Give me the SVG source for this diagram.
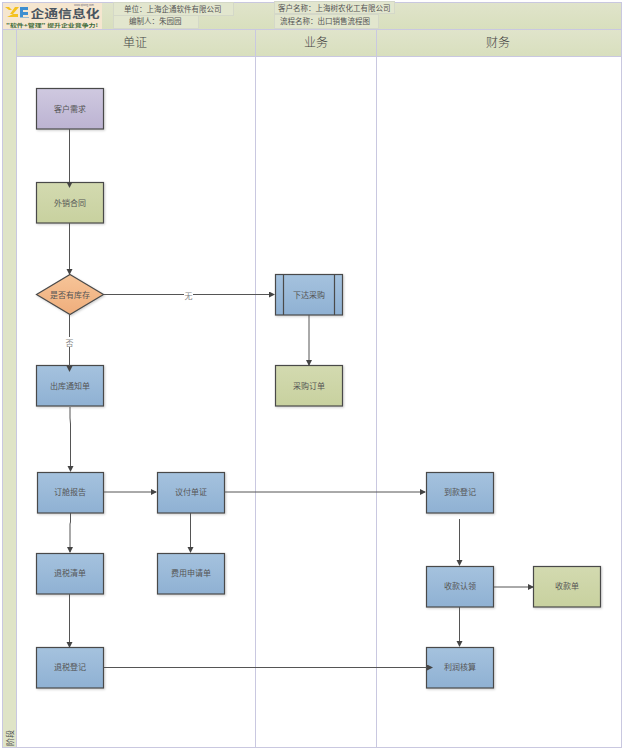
<svg xmlns="http://www.w3.org/2000/svg" width="627" height="753" viewBox="0 0 627 753">
<style>
text{font-family:"Noto Sans CJK SC","Liberation Sans",sans-serif;fill:#333;text-anchor:middle;dominant-baseline:central}
.n{font-size:8px;fill:#555}
.l{font-size:8px;fill:#888}
.h{font-size:12px;fill:#444;font-weight:300}
.m{font-size:7.500px;text-anchor:start;fill:#555}
.tag{fill:#e2e6ce;stroke:#d4d8c8;stroke-width:1}
.lane{fill:#fff;stroke:#c9c8e0;stroke-width:1}
.s{stroke:#4a4a4a;stroke-width:1.2;filter:url(#sh)}
.b{fill:url(#gb)}.g{fill:url(#gg)}.p{fill:url(#gp)}.o{fill:url(#go)}
.c{fill:none;stroke:#555;stroke-width:1;marker-end:url(#a)}
.lb{fill:#fff;stroke:none}
</style>
<defs>
<linearGradient id="gb" x1="0" y1="0" x2="0" y2="1"><stop offset="0" stop-color="#a5c2de"/><stop offset="1" stop-color="#8fb1d3"/></linearGradient>
<linearGradient id="gg" x1="0" y1="0" x2="0" y2="1"><stop offset="0" stop-color="#d3dab0"/><stop offset="1" stop-color="#c8d19f"/></linearGradient>
<linearGradient id="gp" x1="0" y1="0" x2="0" y2="1"><stop offset="0" stop-color="#cfc9e0"/><stop offset="1" stop-color="#bcb3d2"/></linearGradient>
<linearGradient id="go" x1="0" y1="0" x2="0" y2="1"><stop offset="0" stop-color="#f6c498"/><stop offset="1" stop-color="#efae7c"/></linearGradient>
<linearGradient id="gh" x1="0" y1="0" x2="0" y2="1"><stop offset="0" stop-color="#e0e4cb"/><stop offset="1" stop-color="#d8dfbd"/></linearGradient>
<filter id="sh" x="-10%" y="-10%" width="125%" height="125%"><feDropShadow dx="1" dy="1" stdDeviation="0.8" flood-color="#000" flood-opacity="0.2"/></filter>
<marker id="a" markerWidth="7" markerHeight="7" refX="5" refY="3" orient="auto" markerUnits="userSpaceOnUse"><path d="M0,0L6,3L0,6z" fill="#444"/></marker>
</defs>
<rect width="627" height="753" fill="#fff"/>
<g id="frame">
<rect x="2.500" y="2.500" width="619" height="745" fill="#fff" stroke="#c9c8e0"/>
<rect x="2.500" y="2.500" width="619" height="27" fill="url(#gh)" stroke="#c9c8e0"/>
<rect x="2.500" y="29.500" width="14" height="718" fill="#dfe4c7" stroke="#c9c8e0"/>
<text x="9.500" y="738" class="n" transform="rotate(-90 9.500 738)">阶段</text>
</g>
<g id="logo">
<rect x="3" y="3" width="99" height="26" fill="#f5e6cf"/>
<path d="M5,7h4l3,3h-3zM15,7h4l-6,7h5v3h-11l6,-3h-3z" fill="#f4c21f"/>
<path d="M20,7h8v3h-5v2h5v3h-5v2h6v0.500h-9z" fill="#3d8fd0"/>
<text x="65" y="13" textLength="69" lengthAdjust="spacingAndGlyphs" style="font-size:11px;font-weight:700;fill:#4a5560">企通信息化</text>
<text x="84" y="5" style="font-size:2.500px;fill:#667">www.qitong.com</text>
<text x="52" y="24" textLength="92" lengthAdjust="spacingAndGlyphs" style="font-size:5px;font-weight:700;fill:#3f6b3a">"软件+管理" 提升企业竞争力!</text>
</g>
<g id="info">
<rect class="tag" x="113.500" y="2.500" width="120" height="13"/><text class="m" x="124" y="8.500">单位：上海企通软件有限公司</text>
<rect class="tag" x="113.500" y="15.500" width="85" height="13"/><text class="m" x="129" y="20">编制人：朱园园</text>
<rect class="tag" x="274.500" y="1.500" width="120" height="12"/><text class="m" x="278" y="7">客户名称：上海树农化工有限公司</text>
<rect class="tag" x="274.500" y="14.500" width="104" height="14"/><text class="m" x="280" y="20.500">流程名称：出口销售流程图</text>
</g>
<g id="lanes">
<rect class="lane" x="16.500" y="56.500" width="239" height="691"/>
<rect class="lane" x="255.500" y="56.500" width="121" height="691"/>
<rect class="lane" x="376.500" y="56.500" width="245" height="691"/>
<g fill="url(#gh)" stroke="#c9c8e0"><rect x="16.500" y="29.500" width="239" height="27"/><rect x="255.500" y="29.500" width="121" height="27"/><rect x="376.500" y="29.500" width="245" height="27"/></g>
<text class="h" x="135" y="41.500">单证</text><text class="h" x="316" y="41.500">业务</text><text class="h" x="498" y="41.500">财务</text>
</g>
<g id="n1"><rect class="s p" x="36.500" y="88.500" width="67" height="40.500"/><text class="n" x="70" y="108">客户需求</text></g>
<g id="n2"><rect class="s g" x="36.500" y="182.500" width="67" height="40.500"/><text class="n" x="70" y="202">外销合同</text></g>
<g id="n3"><path class="s o" d="M70,274.500L103.500,294.500L70,314.500L36.500,294.500Z"/><text class="n" x="70" y="294">是否有库存</text></g>
<g id="n4"><rect class="s b" x="275.500" y="274.500" width="67" height="40.500"/><path d="M283.500,274.500V315M334.500,274.500V315" stroke="#4a4a4a" stroke-width="1.200" fill="none"/><text class="n" x="309" y="294">下达采购</text></g>
<g id="n5"><rect class="s g" x="275.500" y="365.500" width="67" height="40.500"/><text class="n" x="309" y="385">采购订单</text></g>
<g id="n6"><rect class="s b" x="36.500" y="365.500" width="67" height="40.500"/><text class="n" x="70" y="385">出库通知单</text></g>
<g id="n7"><rect class="s b" x="37.500" y="472.500" width="66" height="40.500"/><text class="n" x="70" y="491.500">订舱报告</text></g>
<g id="n8"><rect class="s b" x="157.500" y="472.500" width="67" height="40.500"/><text class="n" x="191" y="491.500">议付单证</text></g>
<g id="n9"><rect class="s b" x="426.500" y="472.500" width="67" height="40.500"/><text class="n" x="460" y="491.500">到款登记</text></g>
<g id="n10"><rect class="s b" x="36.500" y="553.500" width="67" height="40.500"/><text class="n" x="70" y="572">退税清单</text></g>
<g id="n11"><rect class="s b" x="157.500" y="553.500" width="67" height="40.500"/><text class="n" x="191" y="572">费用申请单</text></g>
<g id="n12"><rect class="s b" x="426.500" y="566.500" width="67" height="40.500"/><text class="n" x="460" y="585.500">收款认领</text></g>
<g id="n13"><rect class="s g" x="533.500" y="566.500" width="67" height="40.500"/><text class="n" x="567" y="585.500">收款单</text></g>
<g id="n14"><rect class="s b" x="36.500" y="647.500" width="67" height="40.500"/><text class="n" x="70" y="666">退税登记</text></g>
<g id="n15"><rect class="s b" x="426.500" y="647.500" width="67" height="40.500"/><text class="n" x="460" y="666">利润核算</text></g>
<g id="connectors">
<path class="c" d="M69.500,129V187"/>
<path class="c" d="M69.500,223V274"/>
<path class="c" d="M104,294.500H274"/>
<path class="c" d="M69.500,315V371"/>
<path class="c" d="M309,315V365"/>
<path class="c" d="M70,407V418L70.500,424V471"/>
<path class="c" d="M104,492H156"/>
<path class="c" d="M224,492H425"/>
<path class="c" d="M70.500,513V522L70,524V552"/>
<path class="c" d="M190.500,513V552"/>
<path class="c" d="M69.500,594V647"/>
<path class="c" d="M459.500,519V565"/>
<path class="c" d="M494,587H533"/>
<path class="c" d="M459.500,607V646"/>
<path class="c" d="M104,667.500H432"/>
<rect class="lb" x="184" y="290" width="9" height="10"/><text class="l" x="188.500" y="295">无</text>
<rect class="lb" x="65" y="337" width="9" height="10"/><text class="l" x="69.500" y="342">否</text>
</g>
</svg>
